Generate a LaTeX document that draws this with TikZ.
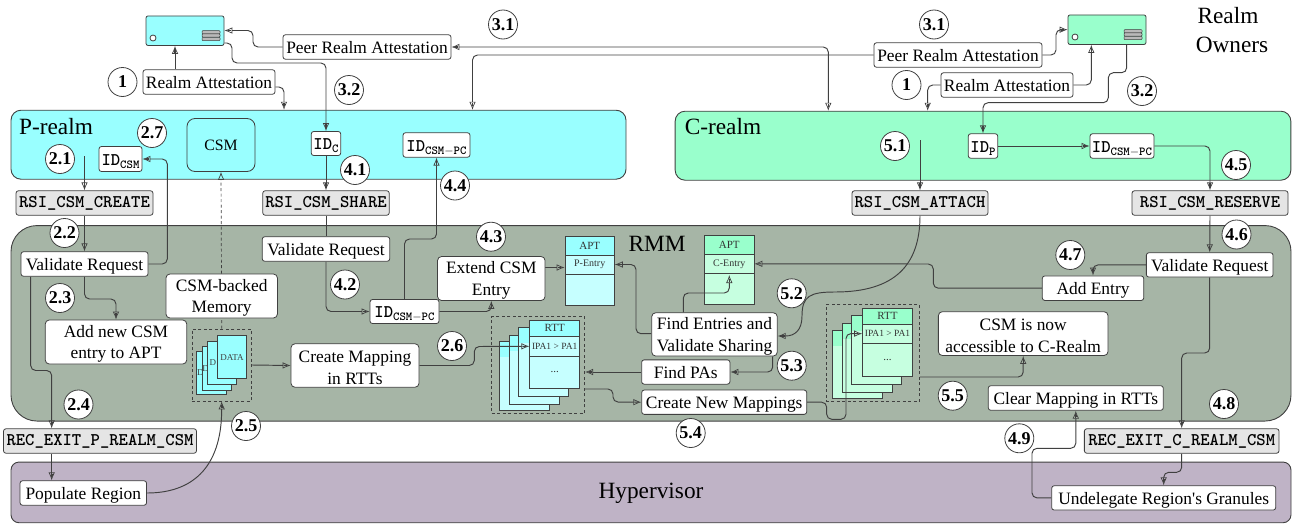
\documentclass[tikz,border=0pt]{standalone}
\usepackage{fontspec}
\setmainfont{Liberation Serif}
\usetikzlibrary{arrows.meta,calc}
\definecolor{linec}{HTML}{404040}
\definecolor{pcol}{HTML}{99FFFF}
\definecolor{plight}{HTML}{C6FFFF}
\definecolor{ccol}{HTML}{99FFCC}
\definecolor{clight}{HTML}{C6FFE0}
\definecolor{rmmcol}{HTML}{A6B5A6}
\definecolor{hypcol}{HTML}{BFB3C6}
\definecolor{apicol}{HTML}{E5E5E5}
\pgfdeclarelayer{back}
\pgfdeclarelayer{conn}
\pgfsetlayers{back,conn,main}
\newcommand\fs[1]{\fontsize{#1}{#1}\selectfont}
\newcommand\idsub[1]{{\ttfamily\bfseries\fs{17.8}ID\raisebox{-3pt}{\fs{12.2}#1}}}
\newcommand\lift{\rule{0pt}{16pt}}
\newcommand\backsheet[6]{%
  \draw[sheetline,fill=#6] (#1,#2) rectangle (#3,#4);
  \fill[#5] ([shift={(.4pt,-.4pt)}]#1,#2) rectangle ([shift={(-.4pt,.4pt)}]#3,#2+16);
  \draw[sheetline] (#1,#2) rectangle (#3,#4);}
\tikzset{
  x=1pt,y=-1pt,
  tipa/.tip={Rectangle[length=3.5pt,width=.8pt,sep=-4.5pt] Latex[open,length=8pt,width=6.5pt,line width=.7pt]},
  mbox/.style={draw=linec,line width=.8pt,fill=white,rounded corners=4pt,inner sep=0pt,align=center,
    font=\fontsize{17.4}{21.4}\selectfont},
  box/.style={mbox,rounded corners=2.5pt,text height=14pt,text depth=1.4pt},
  api/.style={mbox,rounded corners=2.5pt,fill=apicol,font=\ttfamily\bfseries\fs{17.8},text height=11.5pt,text depth=2pt},
  region/.style={draw=linec,line width=.9pt,inner sep=0pt},
  tag/.style={circle,draw=linec,line width=.8pt,fill=white,minimum size=29pt,inner sep=0pt,font=\bfseries\fs{18}},
  title/.style={inner sep=0pt,font=\fs{23.3}},
  conn/.style={draw=linec,line width=.95pt,rounded corners=5pt,-tipa},
  plainc/.style={draw=linec,line width=.95pt,rounded corners=5pt},
  both/.style={conn,tipa-tipa},
  curve/.style={draw=linec,line width=.95pt,-tipa},
  dashc/.style={draw=linec,line width=.7pt,dash pattern=on 3pt off 2.5pt,-{Latex[open,length=8pt,width=6.5pt,line width=.7pt]}},
  dbox/.style={draw=linec,line width=.7pt,dash pattern=on 3pt off 2.5pt,inner sep=0pt},
  tcell/.style={draw=linec,line width=.8pt,inner sep=0pt,text=black!80},
  sheetline/.style={draw=linec,line width=.8pt},
  page/.style={draw=linec,line width=.8pt,fill=pcol,inner sep=0pt,text=black!75,font=\fs{9}},
  pagetxt/.style={inner sep=0pt,text=black!75,font=\fs{9}},
  srv/.style={draw=linec,line width=.8pt,rounded corners=2pt,inner sep=0pt},
  bar/.style={draw=linec,line width=.5pt,fill=gray!55,rounded corners=.8pt,inner sep=0pt,minimum width=18pt,minimum height=3.2pt},
  dot/.style={circle,draw=linec,line width=.8pt,fill=white,minimum size=6pt,inner sep=0pt},
}
\begin{document}
\begin{tikzpicture}
\useasboundingbox (0,0) rectangle (1306,525);
\begin{pgfonlayer}{back}
\node[region,fill=pcol,rounded corners=10pt,minimum width=615pt,minimum height=69pt] (prealm) at (318.5,144.7) {};
\node[region,fill=ccol,rounded corners=10pt,minimum width=615.7pt,minimum height=69pt] (crealm) at (983,145.7) {};
\node[region,fill=rmmcol,rounded corners=26pt,minimum width=1280pt,minimum height=195.5pt] (rmm) at (651,323.3) {};
\node[region,fill=hypcol,rounded corners=8pt,minimum width=1280pt,minimum height=60.7pt] (hyp) at (651,492.4) {};
% P RTT stack
\node[dbox,minimum width=93pt,minimum height=96.6pt] (rttpbox) at (538.2,365) {};
\backsheet{499.7}{341.7}{549.3}{410.3}{pcol}{plight}
\backsheet{509.3}{335.7}{559.3}{404}{pcol}{plight}
\backsheet{518.3}{327.3}{568}{396}{pcol}{plight}
\node[tcell,fill=pcol,minimum width=50pt,minimum height=16.7pt,font=\fs{11}] (rttph) at (554.7,328.3) {RTT};
\node[tcell,fill=plight,minimum width=50pt,minimum height=19.3pt,font=\fs{9.5}] (rttpr) at (554.7,346.3) {IPA1 > PA1};
\node[tcell,fill=plight,minimum width=50pt,minimum height=32.3pt,font=\fs{11}] (rttpb) at (554.7,372.1) {...};
% C RTT stack
\node[dbox,minimum width=93.5pt,minimum height=96.8pt] (rttcbox) at (872.7,353.1) {};
\backsheet{832.5}{330}{882}{398.3}{ccol}{clight}
\backsheet{842.5}{323}{892}{392}{ccol}{clight}
\backsheet{851}{315.3}{901}{384}{ccol}{clight}
\node[tcell,fill=ccol,minimum width=50pt,minimum height=15.7pt,font=\fs{11}] (rttch) at (887.5,316.2) {RTT};
\node[tcell,fill=clight,minimum width=50pt,minimum height=19.3pt,font=\fs{9.5}] (rttcr) at (887.5,333.7) {IPA1 > PA1};
\node[tcell,fill=clight,minimum width=50pt,minimum height=32.7pt,font=\fs{11}] (rttcb) at (887.5,359.7) {...};
% APT tables
\node[tcell,fill=pcol,minimum width=49.3pt,minimum height=18.3pt,font=\fs{11}] (aptph) at (589.7,245.8) {APT};
\node[tcell,fill=plight,minimum width=49.3pt,minimum height=19.5pt,font=\fs{10}] (aptpr) at (589.7,264.8) {P-Entry};
\node[tcell,fill=plight,minimum width=49.3pt,minimum height=30.5pt] (aptpb) at (589.7,289.8) {};
\node[tcell,fill=ccol,minimum width=49.3pt,minimum height=18.3pt,font=\fs{11}] (aptch) at (729.3,244.8) {APT};
\node[tcell,fill=clight,minimum width=49.3pt,minimum height=19.5pt,font=\fs{10}] (aptcr) at (729.3,263.8) {C-Entry};
\node[tcell,fill=clight,minimum width=49.3pt,minimum height=30.5pt] (aptcb) at (729.3,288.8) {};
% data pages
\node[dbox,minimum width=59.5pt,minimum height=72pt] (databox) at (221.7,365) {};
\node[page,minimum width=30pt,minimum height=42.5pt] (pg1) at (211.7,372.8) {};
\node[pagetxt] (pg1t) at (200.3,372.8) {D};
\node[page,minimum width=29.7pt,minimum height=43.3pt] (pg2) at (216.9,368.3) {};
\node[pagetxt] (pg2t) at (205.5,368.3) {D};
\node[page,minimum width=29.4pt,minimum height=42.3pt] (pg3) at (222,362.8) {};
\node[pagetxt] (pg3t) at (212.8,362.8) {D};
\node[page,minimum width=29.4pt,minimum height=43pt] (pg4) at (232,357.2) {DATA};
\end{pgfonlayer}

% titles
\node[title] (ptitle) at (56,127) {P-realm};
\node[title] (ctitle) at (723,127) {C-realm};
\node[title] (rmmtitle) at (657,244) {RMM};
\node[title] (hyptitle) at (651,493) {Hypervisor};
\node[title] (owner1) at (1228,16) {Realm};
\node[title] (owner2) at (1232,45) {Owners};

% servers
\node[srv,fill=pcol,minimum width=78pt,minimum height=29.5pt] (srvp) at (185,30.7) {};
\node[dot] (srvpd) at (153,38) {};
\node[bar] (srvpb1) at (211,32.2) {};
\node[bar] (srvpb2) at (211,35.5) {};
\node[bar] (srvpb3) at (211,38.9) {};
\node[srv,fill=ccol,minimum width=78pt,minimum height=29.5pt] (srvc) at (1107,29.7) {};
\node[dot] (srvcd) at (1075,37) {};
\node[bar] (srvcb1) at (1133,31.2) {};
\node[bar] (srvcb2) at (1133,34.5) {};
\node[bar] (srvcb3) at (1133,37.9) {};

% top labels
\node[box,minimum width=132pt,minimum height=24.5pt] (rap) at (209,82) {Realm Attestation};
\node[box,minimum width=168pt,minimum height=24.5pt] (prap) at (367,47) {Peer Realm Attestation};
\node[box,minimum width=168pt,minimum height=24.5pt] (prac) at (958,55) {Peer Realm Attestation};
\node[box,minimum width=132pt,minimum height=24.5pt] (rac) at (1007,85) {Realm Attestation};

% realm contents
\node[box,minimum width=43pt,minimum height=25pt] (idcsm) at (120.5,159) {\idsub{CSM}};
\node[mbox,fill=pcol,rounded corners=8pt,minimum width=68pt,minimum height=53pt,font=\fs{15.8}] (csm) at (221,145) {CSM};
\node[box,minimum width=29.5pt,minimum height=24pt] (idc) at (326,143.5) {\idsub{C}};
\node[box,minimum width=67pt,minimum height=24.5pt] (idpc) at (436.5,145) {\idsub{CSM$-$PC}};
\node[box,minimum width=29.5pt,minimum height=24.5pt] (idp) at (983,146) {\idsub{P}};
\node[box,minimum width=64pt,minimum height=24.5pt] (idpcc) at (1122,146) {\idsub{CSM$-$PC}};

% API
\node[api,minimum width=137pt,minimum height=24.5pt] (create) at (84.5,203) {RSI\_CSM\_CREATE};
\node[api,minimum width=126.5pt,minimum height=24.5pt] (share) at (326,203) {RSI\_CSM\_SHARE};
\node[api,minimum width=136pt,minimum height=24.5pt] (attach) at (920,203) {RSI\_CSM\_ATTACH};
\node[api,minimum width=156pt,minimum height=24.5pt] (reserve) at (1210,203) {RSI\_CSM\_RESERVE};
\node[api,minimum width=193pt,minimum height=24.5pt] (exitp) at (100,441) {REC\_EXIT\_P\_REALM\_CSM};
\node[api,minimum width=194.7pt,minimum height=24.5pt] (exitc) at (1181.7,441) {REC\_EXIT\_C\_REALM\_CSM};

% RMM
\node[box,minimum width=127pt,minimum height=24.5pt] (valp) at (84.5,264) {Validate Request};
\node[mbox,minimum width=141.5pt,minimum height=44pt] (addn) at (116,342) {\lift Add new CSM\\entry to APT};
\node[mbox,minimum width=111.5pt,minimum height=44pt] (backed) at (221.7,296) {\lift CSM-backed\\Memory};
\node[mbox,minimum width=128pt,minimum height=43.5pt] (cmap) at (355,365.5) {\lift Create Mapping\\in RTTs};
\node[box,minimum width=127.5pt,minimum height=24.5pt] (valm) at (326,249) {Validate Request};
\node[box,minimum width=69pt,minimum height=24pt] (idpcm) at (404.5,311.5) {\idsub{CSM$-$PC}};
\node[mbox,minimum width=107.5pt,minimum height=44pt] (extend) at (491.3,278.5) {\lift Extend CSM\\Entry};
\node[mbox,minimum width=125.6pt,minimum height=43.3pt] (find) at (714.5,334.4) {\lift Find Entries and\\Validate Sharing};
\node[box,minimum width=88.3pt,minimum height=24.3pt] (findpa) at (685.8,372) {Find PAs};
\node[box,minimum width=165pt,minimum height=24.3pt] (newmap) at (724.2,402.2) {Create New Mappings};
\node[box,minimum width=101.4pt,minimum height=24.5pt] (addent) at (1093,288.2) {Add Entry};
\node[box,minimum width=126.7pt,minimum height=24.3pt] (valc) at (1209.7,264.9) {Validate Request};
\node[mbox,minimum width=169.7pt,minimum height=43.8pt] (nowacc) at (1023.2,333.6) {\lift CSM is now\\accessible to C-Realm};
\node[box,minimum width=175pt,minimum height=24.6pt] (clear) at (1075.8,398) {Clear Mapping in RTTs};

% Hypervisor
\node[box,minimum width=126.5pt,minimum height=24.5pt] (pop) at (83.3,493) {Populate Region};
\node[box,minimum width=224pt,minimum height=24.3pt] (undel) at (1163.7,497.9) {Undelegate Region\textquotesingle s Granules};

% connectors
\begin{pgfonlayer}{conn}
\draw[conn] (rap.north -| 175,0) -- (srvp.south -| 175,0);
\draw[conn] (rap.east |- 0,87) -- (284,87) -- (prealm.north -| 284,0);
\draw[conn] (prap.west) -- (253,47) -- (253,30.5) -- (srvp.east |- 0,30.5);
\draw[conn] (srvp.east |- 0,43) -- (232,43) -- (232,63) -- (326,63) -- (idc.north);
\draw[conn] (idc.south) -- (share.north);
\draw[plainc] (share.south) -- (valm.north);
\draw[conn] (valm.south) -- (326,311.5) -- (idpcm.west);
\draw[conn] (idpcm.north) -- (404.5,239) -- (436.5,239) -- (idpc.south);
\draw[conn] (idpcm.east) -- (491.3,311.5) -- (extend.south);
\draw[conn] (extend.east |- 0,267.5) -- (aptpr.west |- 0,267.5);
\draw[conn] (find.west |- 0,333.7) -- (636,333.7) -- (636,264.5) -- (aptpr.east |- 0,264.5);
\draw[conn] (find.north -| 683.3,0) -- (683.3,293) -- (729.3,293) -- (aptcr.south |- 0,275);
\draw[conn] (addent.west) -- (933.3,288.2) -- (933.3,264) -- (aptcr.east);
\draw[conn] (920,140) -- (attach.north);
\draw[conn] (84.5,156) -- (create.north);
\draw[curve] (attach.south) .. controls (920,265) and (895,292) .. (835,292) .. controls (810,292) and (802,296) .. (802,316) .. controls (802,330) and (795,336) .. (find.east |- 0,336);
\draw[conn] (find.south -| 772.7,0) -- (772.7,372) -- (findpa.east);
\draw[conn] (findpa.west) -- (rttpbox.east |- 0,372);
\draw[conn] (rttpbox.east |- 0,389) -- (613,389) -- (613,402) -- (newmap.west);
\draw[conn] (newmap.east) -- (826.7,402.2) -- (826.7,419.3) -- (846,419.3) -- (846,333.5) -- (rttcr.west);
\draw[conn] (rttcbox.east |- 0,377) -- (1023.2,377) -- (nowacc.south);
\draw[conn] (cmap.east) -- (474.3,365.5) -- (474.3,346.5) -- (rttpr.west);
\draw[conn] (databox.east) -- (cmap.west);
\draw[curve] (pop.east) .. controls (190,493) and (221.7,470) .. (databox.south);
\draw[conn] (exitp.south -| 51.7,0) -- (pop.north -| 51.7,0);
\draw[conn] (valp.south -| 30.7,0) -- (30.7,370.5) -- (51.7,370.5) -- (exitp.north -| 51.7,0);
\draw[conn] (create.south) -- (valp.north);
\draw[conn] (valp.south) -- (84.5,299) -- (116,299) -- (addn.north);
\draw[conn] (valp.east) -- (167.3,264) -- (167.3,159) -- (idcsm.east);
\draw[dashc] (databox.north) -- (csm.south);
\draw[both] (prap.east) -- (828.3,47) -- (crealm.north -| 828.3,0);
\draw[conn] (prac.west) -- (472.5,55) -- (prealm.north -| 472.5,0);
\draw[conn] (prac.east) -- (1056,55) -- (1056,29.7) -- (srvc.west);
\draw[conn] (rac.east) -- (1091.3,85) -- (srvc.south -| 1091.3,0);
\draw[conn] (rac.west) -- (927.7,85) -- (crealm.north -| 927.7,0);
\draw[conn] (srvc.south -| 1126.7,0) -- (1126.7,72.7) -- (1108.3,72.7) -- (1108.3,102.7) -- (983,102.7) -- (idp.north);
\draw[conn] (idp.east) -- (idpcc.west);
\draw[conn] (idpcc.east) -- (1210,146) -- (reserve.north);
\draw[conn] (reserve.south) -- (valc.north);
\draw[conn] (valc.west) -- (1093,264.9) -- (addent.north);
\draw[conn] (valc.south) -- (1209.7,353) -- (1181.7,353) -- (exitc.north);
\draw[conn] (exitc.south) -- (1181.7,472.3) -- (1163.7,472.3) -- (undel.north);
\draw[conn] (undel.west) -- (1032,497.9) -- (1032,448.3) -- (1075.8,448.3) -- (clear.south);
\end{pgfonlayer}

% step tags
\node[tag] (t1l) at (122.5,82) {1};
\node[tag] (t1r) at (906.5,85) {1};
\node[tag] (t21) at (60,159) {2.1};
\node[tag] (t22) at (64.5,233) {2.2};
\node[tag] (t23) at (60,298) {2.3};
\node[tag] (t24) at (78.5,404.5) {2.4};
\node[tag] (t25) at (246,426) {2.5};
\node[tag] (t26) at (452,346) {2.6};
\node[tag] (t27) at (152,133) {2.7};
\node[tag] (t31l) at (503,24.5) {3.1};
\node[tag] (t31r) at (934,24.5) {3.1};
\node[tag] (t32l) at (349,90) {3.2};
\node[tag] (t32r) at (1142,91) {3.2};
\node[tag] (t41) at (355,170) {4.1};
\node[tag] (t42) at (345,284.5) {4.2};
\node[tag] (t43) at (491,236.7) {4.3};
\node[tag] (t44) at (455,185.5) {4.4};
\node[tag] (t45) at (1236,165) {4.5};
\node[tag] (t46) at (1236.5,234.5) {4.6};
\node[tag] (t47) at (1070.3,255) {4.7};
\node[tag] (t48) at (1224,404) {4.8};
\node[tag] (t49) at (1019.3,438.3) {4.9};
\node[tag] (t51) at (895,146) {5.1};
\node[tag] (t52) at (791.7,293.3) {5.2};
\node[tag] (t53) at (791.7,365.7) {5.3};
\node[tag] (t54) at (690.7,433) {5.4};
\node[tag] (t55) at (952.7,395.7) {5.5};
\end{tikzpicture}
\end{document}
